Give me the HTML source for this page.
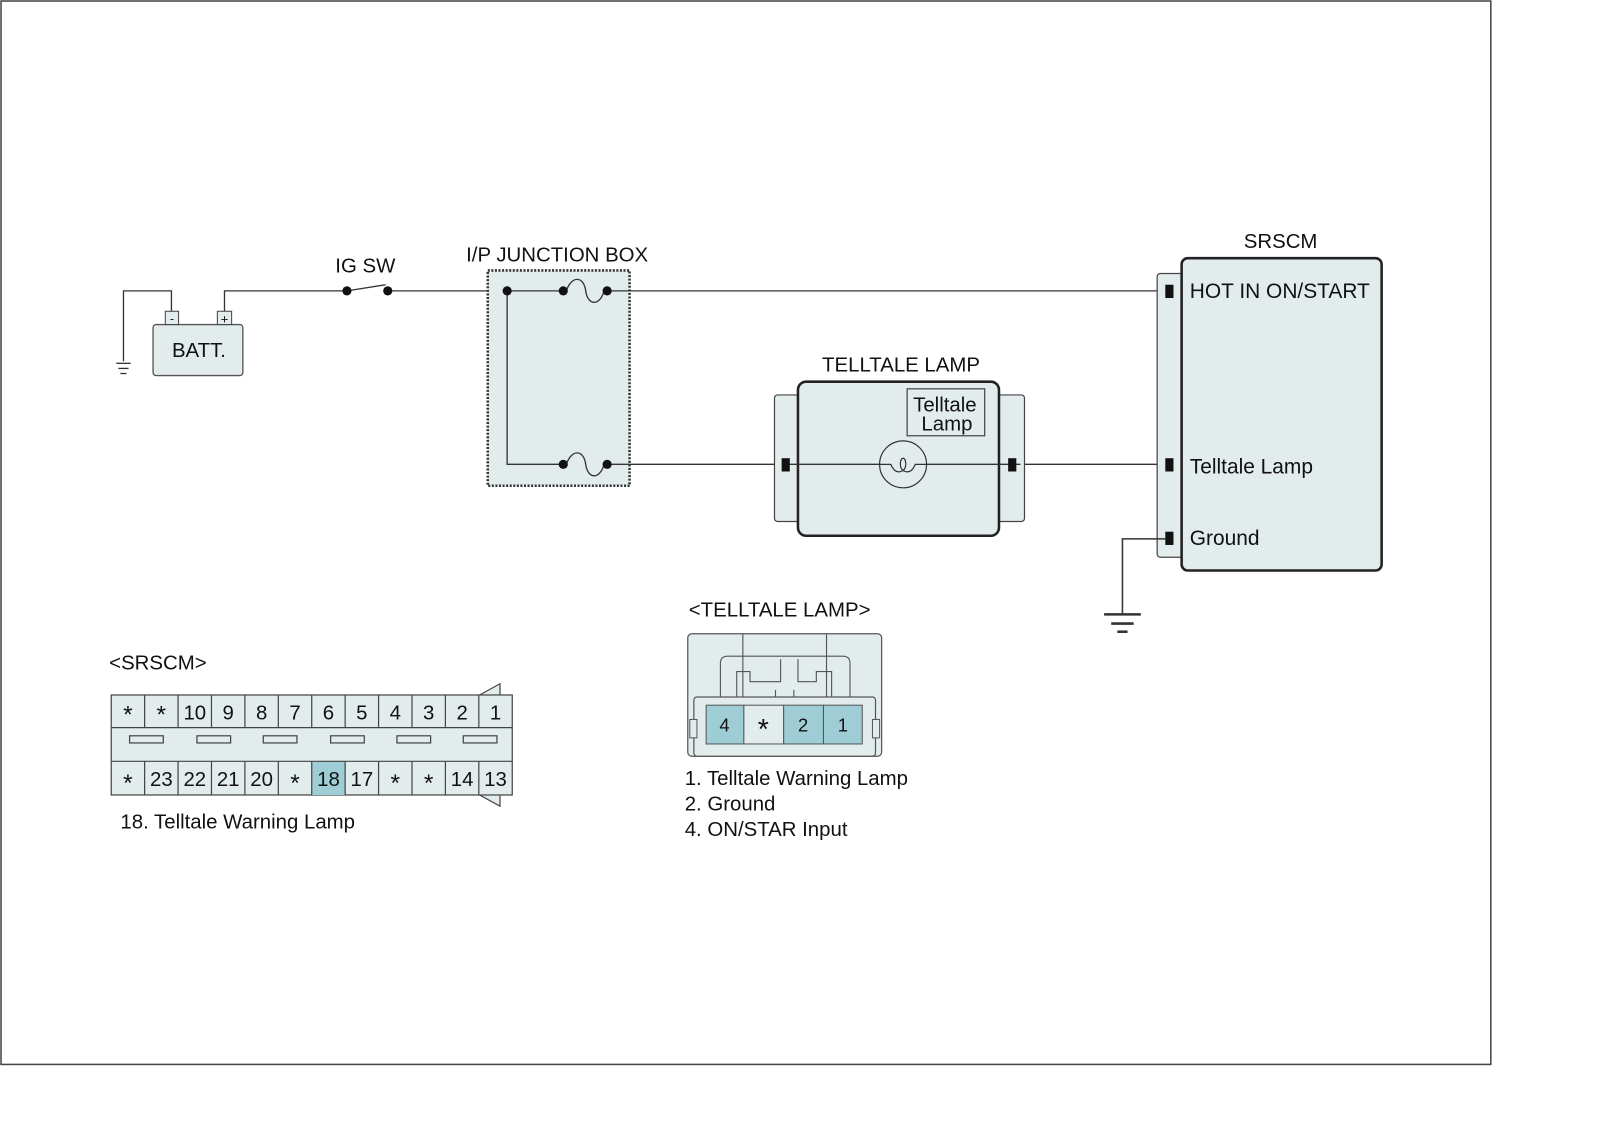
<!DOCTYPE html>
<html><head><meta charset="utf-8"><style>html,body{margin:0;padding:0;background:#fff}svg{display:block}text{font-family:"Liberation Sans",Arial,sans-serif;fill:#111}</style></head>
<body>
<svg width="1600" height="1143" viewBox="0 0 1568 1120" preserveAspectRatio="none" xmlns="http://www.w3.org/2000/svg">
<rect x="1" y="1" width="1460" height="1042" fill="#fff" stroke="#444" stroke-width="1.5"/>
<g stroke="#333" stroke-width="1.3" fill="none">
<polyline points="168,305 168,285 121,285 121,354"/>
<line x1="114" y1="356" x2="128" y2="356"/><line x1="116" y1="361" x2="126" y2="361"/><line x1="118" y1="366" x2="124" y2="366"/>
<polyline points="220,305 220,285 340,285"/>
<line x1="340" y1="285" x2="378" y2="279"/>
<line x1="380" y1="285" x2="497" y2="285"/>
</g>
<rect x="150" y="318" width="88" height="50" rx="3" fill="#e3ecec" stroke="#555" stroke-width="1.3"/>
<rect x="162" y="305" width="13" height="13" fill="#e3ecec" stroke="#444"/>
<rect x="213" y="305" width="14" height="13" fill="#e3ecec" stroke="#444"/>
<text x="168.5" y="316" font-size="12" text-anchor="middle">-</text>
<text x="220" y="317" font-size="13" text-anchor="middle">+</text>
<text x="195" y="350" font-size="20" text-anchor="middle">BATT.</text>
<text x="358" y="267" font-size="20" text-anchor="middle">IG SW</text>
<circle cx="340" cy="285" r="4.5" fill="#111"/><circle cx="380" cy="285" r="4.5" fill="#111"/>
<rect x="478" y="265" width="139" height="211" fill="#e3ecec" stroke="#333" stroke-width="2.5" stroke-dasharray="2,1.5"/>
<text x="546" y="256" font-size="20" text-anchor="middle">I/P JUNCTION BOX</text>
<g stroke="#333" stroke-width="1.3" fill="none">
<polyline points="497,285 552,285"/>
<polyline points="497,285 497,455 552,455"/>
<path d="M555,285 C560,270 572,270 574,285 C576,300 588,300 592,285"/>
<path d="M555,455 C560,440 572,440 574,455 C576,470 588,470 592,455"/>
<line x1="595" y1="285" x2="1146" y2="285"/>
<line x1="595" y1="455" x2="1146" y2="455"/>
</g>
<circle cx="497" cy="285" r="4.5" fill="#111"/><circle cx="552" cy="285" r="4.5" fill="#111"/><circle cx="595" cy="285" r="4.5" fill="#111"/>
<circle cx="552" cy="455" r="4.5" fill="#111"/><circle cx="595" cy="455" r="4.5" fill="#111"/>
<rect x="759" y="387" width="26" height="124" rx="3" fill="#e3ecec" stroke="#444" stroke-width="1.2"/>
<rect x="977" y="387" width="27" height="124" rx="3" fill="#e3ecec" stroke="#444" stroke-width="1.2"/>
<rect x="782" y="374" width="197" height="151" rx="8" fill="#e3ecec" stroke="#222" stroke-width="2.5"/>
<line x1="770" y1="455" x2="1000" y2="455" stroke="#333" stroke-width="1.3"/>
<text x="883" y="364" font-size="20" text-anchor="middle">TELLTALE LAMP</text>
<rect x="889" y="381" width="76" height="46" fill="#e3ecec" stroke="#444" stroke-width="1.2"/>
<text x="926" y="403" font-size="20" text-anchor="middle">Telltale</text>
<text x="928" y="422" font-size="20" text-anchor="middle">Lamp</text>
<circle cx="885" cy="455" r="23" fill="#e3ecec" stroke="#333" stroke-width="1.2"/>
<path d="M862,455 L873,455 C876,462 880,464 885,461 C889,458 888,449 885,449 C882,449 881,458 885,461 C890,464 894,462 897,455 L908,455" fill="none" stroke="#333" stroke-width="1.2"/>
<rect x="766" y="449" width="8" height="13" fill="#111"/>
<rect x="988" y="449" width="8" height="13" fill="#111"/>
<rect x="1134" y="268" width="26" height="278" rx="3" fill="#e3ecec" stroke="#444" stroke-width="1.2"/>
<rect x="1158" y="253" width="196" height="306" rx="6" fill="#e3ecec" stroke="#222" stroke-width="2.5"/>
<text x="1255" y="243" font-size="20" text-anchor="middle">SRSCM</text>
<rect x="1142" y="279" width="8" height="13" fill="#111"/>
<rect x="1142" y="449" width="8" height="13" fill="#111"/>
<rect x="1142" y="521" width="8" height="13" fill="#111"/>
<text x="1166" y="292" font-size="20.5">HOT IN ON/START</text>
<text x="1166" y="464" font-size="20.5">Telltale Lamp</text>
<text x="1166" y="534" font-size="20.5">Ground</text>
<g stroke="#333" stroke-width="1.5" fill="none">
<polyline points="1142,528 1100,528 1100,602"/>
<line x1="1082" y1="602" x2="1118" y2="602" stroke-width="2.5"/>
<line x1="1089" y1="611" x2="1111" y2="611" stroke-width="2.5"/>
<line x1="1095" y1="619" x2="1105" y2="619" stroke-width="2.5"/>
</g>
<text x="107" y="656" font-size="20">&lt;SRSCM&gt;</text>
<polyline points="470,681 490,670 490,790 470,779" fill="#e3ecec" stroke="#444" stroke-width="1.2"/>
<rect x="109" y="681" width="393" height="98" fill="#e3ecec" stroke="#444" stroke-width="1.2"/>
<rect x="305.5" y="746" width="32.75" height="33" fill="#9fcdd6"/>
<g stroke="#444" stroke-width="1.2" fill="none">
<line x1="109" y1="713" x2="502" y2="713"/><line x1="109" y1="746" x2="502" y2="746"/>
<path d="M141.75,681v32M174.5,681v32M207.25,681v32M240,681v32M272.75,681v32M305.5,681v32M338.25,681v32M371,681v32M403.75,681v32M436.5,681v32M469.25,681v32"/>
<path d="M141.75,746v33M174.5,746v33M207.25,746v33M240,746v33M272.75,746v33M305.5,746v33M338.25,746v33M371,746v33M403.75,746v33M436.5,746v33M469.25,746v33"/>
<rect x="127" y="721" width="33" height="7"/><rect x="193" y="721" width="33" height="7"/><rect x="258" y="721" width="33" height="7"/><rect x="324" y="721" width="33" height="7"/><rect x="389" y="721" width="33" height="7"/><rect x="454" y="721" width="33" height="7"/>
</g>
<g font-size="20" text-anchor="middle">
<text x="125.4" y="708" font-size="24">*</text><text x="158.1" y="708" font-size="24">*</text><text x="190.9" y="705">10</text><text x="223.6" y="705">9</text><text x="256.4" y="705">8</text><text x="289.1" y="705">7</text><text x="321.9" y="705">6</text><text x="354.6" y="705">5</text><text x="387.4" y="705">4</text><text x="420.1" y="705">3</text><text x="452.9" y="705">2</text><text x="485.6" y="705">1</text>
<text x="125.4" y="775" font-size="24">*</text><text x="158.1" y="770">23</text><text x="190.9" y="770">22</text><text x="223.6" y="770">21</text><text x="256.4" y="770">20</text><text x="289.1" y="775" font-size="24">*</text><text x="321.9" y="770">18</text><text x="354.6" y="770">17</text><text x="387.4" y="775" font-size="24">*</text><text x="420.1" y="775" font-size="24">*</text><text x="452.9" y="770">14</text><text x="485.6" y="770">13</text>
</g>
<text x="118" y="812" font-size="20">18. Telltale Warning Lamp</text>
<text x="675" y="604" font-size="20">&lt;TELLTALE LAMP&gt;</text>
<rect x="674" y="621" width="190" height="120" rx="4" fill="#e3ecec" stroke="#555" stroke-width="1.2"/>
<g stroke="#555" stroke-width="1.1" fill="none">
<path d="M728,621v55M810,621v55"/>
<path d="M706,684 V650 Q706,643 713,643 H826 Q833,643 833,650 V684"/>
<path d="M722,684 V658 H735 V668 H765 V646 M782,646 V668 H800 V658 H815 V684"/>
<path d="M728,676 V684 Q728,690 734,690 M810,676 V684 Q810,690 804,690"/>
<path d="M760,676 V688 M778,676 V688"/>
</g>
<rect x="680" y="683" width="178" height="58" rx="3" fill="#e3ecec" stroke="#555" stroke-width="1.2"/>
<rect x="676" y="705" width="7" height="18" fill="#e3ecec" stroke="#555"/>
<rect x="855" y="705" width="7" height="18" fill="#e3ecec" stroke="#555"/>
<rect x="692" y="691" width="37" height="38" fill="#9fcdd6" stroke="#555"/>
<rect x="729" y="691" width="39" height="38" fill="#e3ecec" stroke="#555"/>
<rect x="768" y="691" width="39" height="38" fill="#9fcdd6" stroke="#555"/>
<rect x="807" y="691" width="38" height="38" fill="#9fcdd6" stroke="#555"/>
<g font-size="18" text-anchor="middle"><text x="710" y="717">4</text><text x="748" y="724" font-size="28">*</text><text x="787" y="717">2</text><text x="826" y="717">1</text></g>
<text x="671" y="769" font-size="20">1. Telltale Warning Lamp</text>
<text x="671" y="794" font-size="20">2. Ground</text>
<text x="671" y="819" font-size="20">4. ON/STAR Input</text>
</svg>
</body></html>
